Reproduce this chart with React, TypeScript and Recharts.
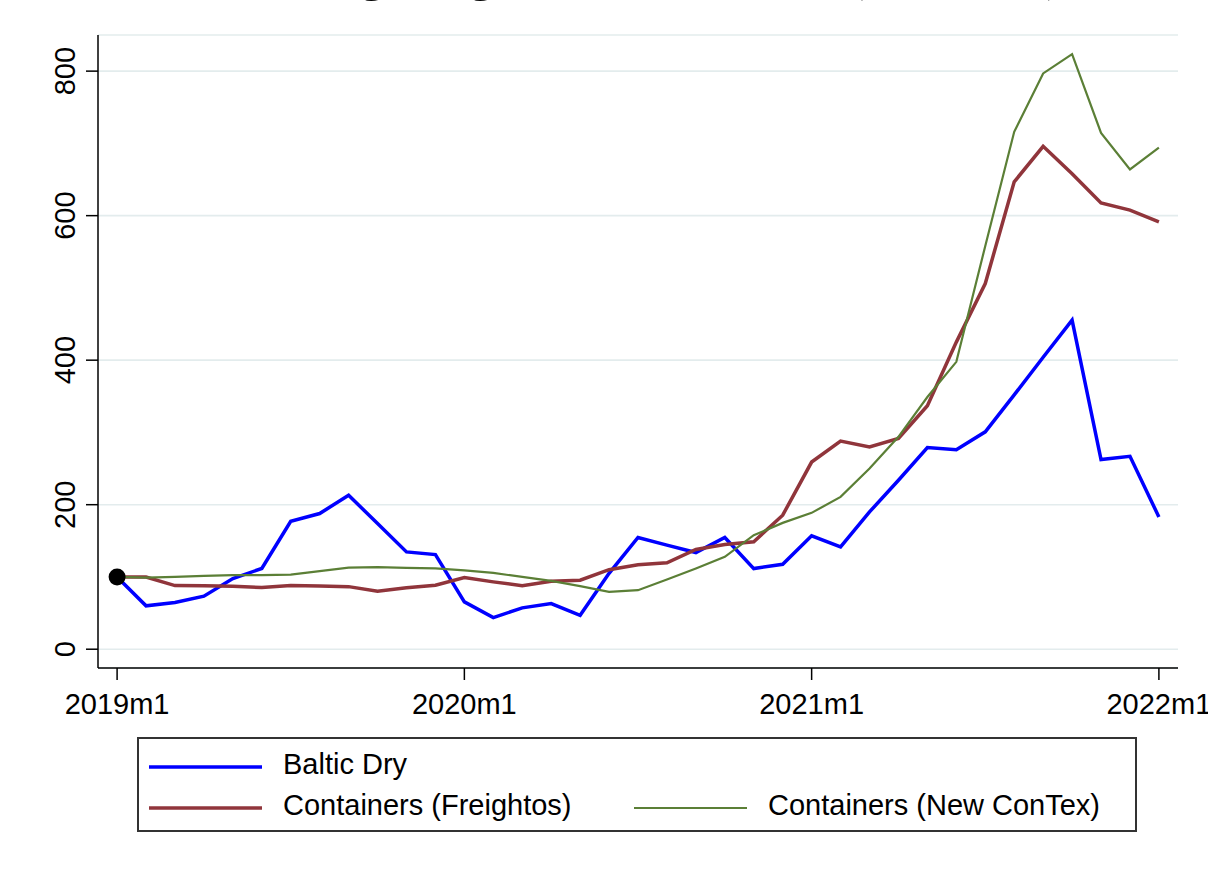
import React from 'react'
import {
  LineChart,
  Line,
  XAxis,
  YAxis,
  CartesianGrid,
  ReferenceDot,
} from 'recharts'

// monthly index, 2019m1 = 100
const balticDry = [
  100, 60, 64.6, 73.4, 97.8, 111.7, 177, 187.8, 213, 174, 134.7, 131,
  65.5, 43.8, 57.2, 63.2, 47, 105, 154.6, 144, 133.8, 154.6, 111.6, 117.6,
  156.9, 141.6, 190, 233.9, 279, 276, 300.8, 352, 404, 455.4, 262.5, 267,
  183,
]
const freightos = [
  100, 100, 88, 87.7, 87, 85.3, 88, 87.5, 86.6, 80.3, 84.9, 88.6,
  99.2, 93.2, 88, 94, 95.5, 110, 117, 119.5, 138, 145, 148.6, 185.5,
  259, 288, 280, 291.6, 337, 425, 506, 646.8, 696, 658, 617.7, 607.6,
  591.4,
]
const newContex = [
  100, 99, 100, 101.5, 102.5, 102.5, 103.3, 108, 113, 113.5, 112.5, 112,
  109, 105.6, 100, 94.6, 87.2, 79.4, 81.7, 96.4, 111.6, 127.8, 157.8, 174.8,
  188.7, 210.8, 250, 293.9, 349, 397.7, 558, 716, 796.8, 823.5, 714.6, 664,
  694,
]

const xTicks = [0, 12, 24, 36]
const xTickLabels = ['2019m1', '2020m1', '2021m1', '2022m1']
const yTicks = [0, 200, 400, 600, 800]

const series = [
  { key: 'baltic', name: 'Baltic Dry', color: '#0000ff', width: 3.5 },
  { key: 'freightos', name: 'Containers (Freightos)', color: '#90353b', width: 3.5 },
  { key: 'contex', name: 'Containers (New ConTex)', color: '#5b7f36', width: 2.2 },
]

const data = balticDry.map((v, i) => ({
  t: i,
  baltic: v,
  freightos: freightos[i],
  contex: newContex[i],
}))

const FONT = '"Liberation Sans", Arial, sans-serif'

function YTick(props: any) {
  const { x, y, payload } = props
  const bx = x - 9
  return (
    <text
      x={bx}
      y={y}
      transform={`rotate(-90 ${bx} ${y})`}
      textAnchor="middle"
      fontSize={29}
      fontFamily={FONT}
      fill="#000"
    >
      {payload.value}
    </text>
  )
}

// legend slots: [column x, row y]
const legendSlots = [
  [149, 767],
  [149, 808],
  [634, 808],
]

export default function App() {
  return (
    <div style={{ position: 'absolute', left: 0, top: 0, width: 1208, height: 873, background: '#fff' }}>
      <LineChart
        width={1208}
        height={873}
        data={data}
        margin={{ top: 35, right: 30, bottom: 155, left: 0 }}
      >
        <CartesianGrid vertical={false} stroke="#e3eced" strokeWidth={1.6} />
        <XAxis
          dataKey="t"
          type="number"
          domain={[-0.66, 36.66]}
          allowDataOverflow
          ticks={xTicks}
          interval={0}
          height={50}
          tickSize={12}
          tickMargin={13}
          tickFormatter={(v: number) => xTickLabels[xTicks.indexOf(v)]}
          tick={{ fontSize: 29, fill: '#000', fontFamily: FONT }}
          stroke="#000"
          strokeWidth={1.5}
        />
        <YAxis
          type="number"
          domain={[-26, 850]}
          allowDataOverflow
          ticks={yTicks}
          interval={0}
          width={98}
          tickSize={12}
          tick={<YTick />}
          stroke="#000"
          strokeWidth={1.5}
        />
        {series.map((s) => (
          <Line
            key={s.key}
            type="linear"
            dataKey={s.key}
            name={s.name}
            stroke={s.color}
            strokeWidth={s.width}
            dot={false}
            activeDot={false}
            isAnimationActive={false}
          />
        ))}
        <ReferenceDot x={0} y={balticDry[0]} r={8.5} fill="#000" stroke="none" />
      </LineChart>

      <svg
        width={1208}
        height={873}
        style={{ position: 'absolute', left: 0, top: 0, pointerEvents: 'none' }}
      >
        {/* title sits mostly above the page edge, only its descenders show */}
        <text x={226} y={-10} fontSize={51} fontFamily='"Liberation Serif", serif' fill="#000">
          Soaring freight rates in 2021
          <tspan x={847}>(Jan 2019)</tspan>
        </text>
        <rect x={138} y={738} width={998} height={93} fill="none" stroke="#333" strokeWidth={2} />
        {series.map((s, i) => {
          const [lx, ly] = legendSlots[i]
          return (
            <g key={s.key}>
              <line x1={lx} x2={lx + 113} y1={ly} y2={ly} stroke={s.color} strokeWidth={s.width} />
              <text x={lx + 134} y={ly + 7} fontSize={29} fontFamily={FONT} fill="#000">
                {s.name}
              </text>
            </g>
          )
        })}
      </svg>
    </div>
  )
}
